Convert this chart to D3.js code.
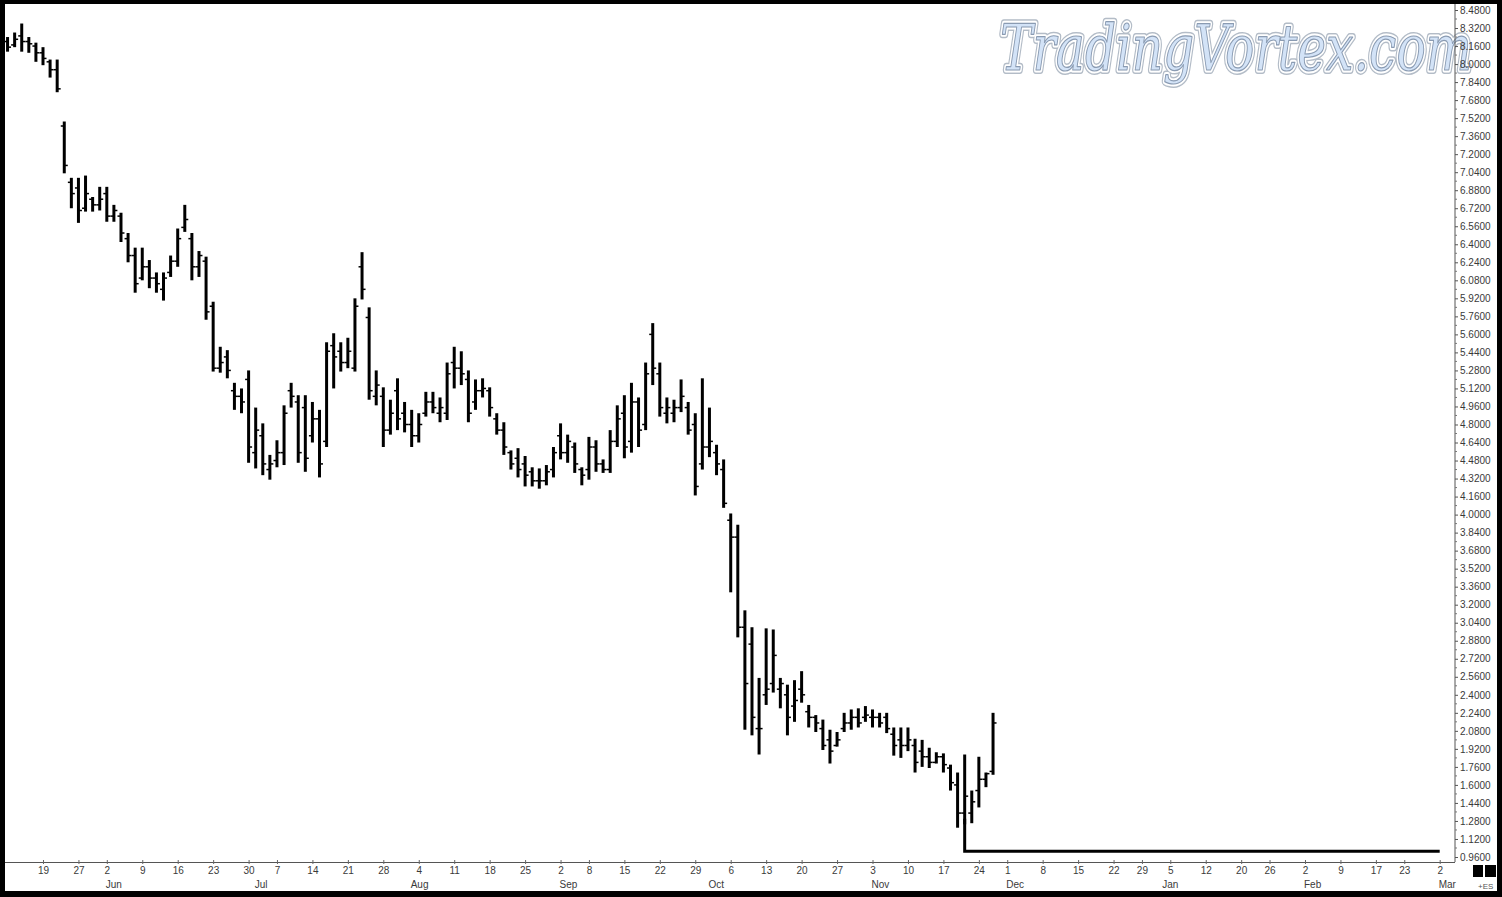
<!DOCTYPE html>
<html><head><meta charset="utf-8">
<script src="https://cdnjs.cloudflare.com/ajax/libs/d3/7.8.5/d3.min.js"></script>
<style>html,body{margin:0;padding:0;background:#fff;overflow:hidden}svg{display:block}</style>
</head><body>
<svg id="c" width="1502" height="897"></svg>
<script>
// ---- data ----
const firstDay = "2008-05-12";
const lastDay = "2009-03-06";
const holidays = ["2008-05-26","2008-07-04","2008-09-01","2008-11-27","2008-12-25","2009-01-01","2009-01-19","2009-02-16"];

const high = [8.24,8.28,8.36,8.24,8.19,
 8.15,8.04,8.04,7.49,6.99, 6.99,7.01,6.82,6.91,6.91, 6.75,6.68,6.50,6.37,6.37,
 6.26,6.15,6.15,6.30,6.54, 6.75,6.50,6.34,6.29,5.89, 5.49,5.46,5.17,5.12,5.28,
 4.95,4.81,4.53,4.66,4.97, 5.17,5.06,5.06,5.00,4.93, 5.53,5.61,5.53,5.57,5.92,
 6.33,5.84,5.28,5.13,5.02, 5.21,5.00,4.93,4.90,5.09, 5.09,5.04,5.35,5.49,5.45,
 5.28,5.20,5.21,5.13,4.90, 4.82,4.57,4.59,4.52,4.42, 4.41,4.44,4.60,4.81,4.71,
 4.64,4.42,4.69,4.66,4.49, 4.75,4.97,5.06,5.17,5.04, 5.35,5.70,5.35,5.04,5.02,
 5.20,5.00,4.90,5.21,4.95, 4.62,4.49,4.01,3.91,3.15, 3.00,2.55,2.99,2.98,2.55,
 2.49,2.53,2.61,2.31,2.22, 2.18,2.09,2.07,2.24,2.27, 2.28,2.30,2.27,2.24,2.24,
 2.11,2.11,2.11,2.01,2.00, 1.93,1.89,1.88,1.78,1.71, 1.87,1.55,1.85,1.71,2.24];
const low = [8.11,8.15,8.11,8.10,8.02,
 7.99,7.88,7.75,7.03,6.72, 6.59,6.69,6.69,6.70,6.60, 6.60,6.42,6.24,5.97,6.08,
 6.01,5.97,5.90,6.11,6.20, 6.51,6.08,6.11,5.73,5.27, 5.26,5.21,4.93,4.90,4.46,
 4.41,4.35,4.31,4.42,4.44, 4.95,4.46,4.38,4.64,4.33, 4.60,5.12,5.27,5.30,5.27,
 5.91,5.02,4.97,4.60,4.71, 4.75,4.73,4.60,4.64,4.87, 4.90,4.82,4.84,5.12,5.15,
 4.82,4.93,5.04,4.87,4.71, 4.53,4.40,4.33,4.25,4.25, 4.23,4.26,4.33,4.49,4.46,
 4.37,4.26,4.31,4.38,4.37, 4.37,4.60,4.50,4.55,4.60, 4.75,5.15,4.87,4.81,4.82,
 4.91,4.71,4.17,4.40,4.51, 4.35,4.06,3.31,2.91,2.09, 2.04,1.87,2.31,2.42,2.28,
 2.04,2.16,2.33,2.11,2.07, 1.91,1.79,1.94,2.07,2.09, 2.11,2.16,2.11,2.11,2.06,
 1.86,1.84,1.90,1.71,1.76, 1.75,1.79,1.71,1.55,1.22, 1.25,1.26,1.40,1.58,1.69];
const open = [8.20,8.17,8.25,8.20,8.16,
 8.10,8.02,7.95,7.45,6.95, 6.90,6.72,6.80,6.75,6.85, 6.65,6.65,6.45,6.30,6.10,
 6.20,6.10,6.00,6.15,6.25, 6.55,6.45,6.20,6.25,5.85, 5.30,5.40,5.10,5.05,5.20,
 4.55,4.70,4.40,4.48,4.55, 5.10,5.00,4.95,4.70,4.85, 4.65,5.50,5.45,5.35,5.30,
 6.20,5.75,5.05,5.05,4.75, 5.10,4.90,4.80,4.70,4.90, 5.00,4.90,4.90,5.35,5.30,
 5.20,5.00,5.10,5.10,4.85, 4.75,4.55,4.50,4.45,4.38, 4.30,4.30,4.40,4.70,4.55,
 4.60,4.40,4.40,4.60,4.45, 4.40,4.65,4.90,4.65,5.00, 4.80,5.60,5.25,4.90,4.90,
 4.95,4.95,4.80,4.45,4.60, 4.55,4.40,3.95,3.80,3.00, 2.85,2.10,2.40,2.50,2.45,
 2.40,2.30,2.45,2.25,2.20, 2.10,2.00,1.95,2.10,2.15, 2.20,2.20,2.20,2.20,2.20,
 2.05,2.00,1.95,1.95,1.90, 1.85,1.80,1.85,1.75,1.60, 1.35,1.35,1.55,1.65,1.72];
const close = [8.15,8.22,8.20,8.18,8.10,
 8.05,7.95,7.78,7.10,6.85, 6.70,6.85,6.75,6.80,6.65, 6.70,6.50,6.30,6.05,6.20,
 6.10,6.05,6.10,6.25,6.45, 6.62,6.20,6.30,5.80,5.30, 5.35,5.28,5.05,5.00,4.60,
 4.75,4.45,4.45,4.55,4.90, 5.05,4.55,4.50,4.85,4.45, 5.45,5.40,5.35,5.45,5.85,
 6.00,5.10,5.15,4.75,4.90, 4.85,4.80,4.70,4.80,5.00, 4.95,4.95,5.25,5.30,5.25,
 4.90,5.10,5.12,4.95,4.75, 4.60,4.45,4.40,4.35,4.30, 4.30,4.38,4.55,4.55,4.65,
 4.45,4.35,4.60,4.45,4.40, 4.65,4.85,4.60,5.00,4.75, 5.25,5.30,4.95,4.95,4.95,
 5.05,4.75,4.25,4.60,4.65, 4.45,4.10,3.80,3.00,2.50, 2.20,2.10,2.45,2.75,2.50,
 2.20,2.35,2.40,2.20,2.15, 1.95,1.90,2.00,2.15,2.20, 2.15,2.22,2.20,2.15,2.10,
 1.95,1.95,2.00,1.80,1.85, 1.80,1.85,1.78,1.62,1.35, 1.50,1.45,1.65,1.70,2.15];

const supportLevel = 1.01;
const supportStart = "2008-11-20";
const supportTopPrice = 1.30;
const supportEnd = "2009-03-02";

const dayTicks = ["2008-05-19","2008-05-27","2008-06-02","2008-06-09","2008-06-16","2008-06-23","2008-06-30",
 "2008-07-07","2008-07-14","2008-07-21","2008-07-28","2008-08-04","2008-08-11","2008-08-18","2008-08-25",
 "2008-09-02","2008-09-08","2008-09-15","2008-09-22","2008-09-29","2008-10-06","2008-10-13","2008-10-20",
 "2008-10-27","2008-11-03","2008-11-10","2008-11-17","2008-11-24","2008-12-01","2008-12-08","2008-12-15",
 "2008-12-22","2008-12-29","2009-01-05","2009-01-12","2009-01-20","2009-01-26","2009-02-02","2009-02-09",
 "2009-02-17","2009-02-23","2009-03-02"];
const monthTickDates = ["2008-06-02","2008-07-01","2008-08-01","2008-09-02","2008-10-01","2008-11-03","2008-12-01","2009-01-02","2009-02-02","2009-03-02"];
const monthTickLabels = ["Jun","Jul","Aug","Sep","Oct","Nov","Dec","Jan","Feb","Mar"];
const priceMin = 0.96, priceMax = 8.48, priceStep = 0.16;
const watermarkText = "TradingVortex.com";

// ---- trading-day calendar ----
const fmt = d3.timeFormat("%Y-%m-%d");
const parse = d3.timeParse("%Y-%m-%d");
const hol = new Set(holidays);
const tradingDays = d3.timeDay.range(parse(firstDay), d3.timeDay.offset(parse(lastDay),1))
  .filter(d => d.getDay() !== 0 && d.getDay() !== 6 && !hol.has(fmt(d)))
  .map(fmt);
const idxOf = new Map(tradingDays.map((d,i)=>[d,i]));

const bars = high.map((h,i)=>({date: tradingDays[i], h, l: low[i], o: open[i], c: close[i]}));

// ---- scales ----
const svg = d3.select("#c");
const x = d3.scaleLinear().domain([0, idxOf.get("2009-03-02")]).range([7.55, 1439.7]);
const y = d3.scaleLinear().domain([priceMin, priceMax]).range([857, 10]);
const font = "'Liberation Sans', Arial, sans-serif";

// frame
svg.append("rect").attr("width",1502).attr("height",897).attr("fill","#000");
svg.append("rect").attr("x",5).attr("y",4).attr("width",1492).attr("height",887).attr("fill","#fff");

svg.append("clipPath").attr("id","plotclip").append("rect").attr("x",5).attr("y",4).attr("width",1450).attr("height",858);

// watermark
const wm = svg.append("g").attr("font-family","'DejaVu Serif', serif").attr("font-style","italic")
  .attr("font-weight","normal").attr("font-size",64);
[["#b3bcc7",8,"none"],["#ffffff",5,"none"],["#8a9bb2",1.2,"#d3e3f7"]].forEach(([s,w,f])=>{
  wm.append("text").attr("x",1000).attr("y",70).attr("textLength",472).attr("lengthAdjust","spacingAndGlyphs")
    .attr("stroke",s).attr("stroke-width",w).attr("stroke-linejoin","round").attr("fill",f).text(watermarkText);
});

// price axis
const yAxisX = 1455;
svg.append("line").attr("x1",yAxisX).attr("x2",yAxisX).attr("y1",4).attr("y2",862).attr("stroke","#555").attr("stroke-width",1);
const priceTicks = d3.range(0, Math.round((priceMax-priceMin)/priceStep)+1).map(k => priceMin + k*priceStep);
const yAxis = d3.axisRight(y).tickValues(priceTicks).tickSize(3).tickPadding(2).tickFormat(d3.format(".4f"));
const yg = svg.append("g").attr("transform",`translate(${yAxisX},0)`).call(yAxis);
yg.select(".domain").remove();
yg.selectAll("line").attr("stroke","#555");
yg.selectAll("text").attr("font-family",font).attr("font-size",10).attr("fill","#3a3a3a");
const minor = priceTicks.slice(0,-1).map(v=>v+priceStep/2);
svg.append("g").selectAll("line").data(minor).join("line")
  .attr("x1",yAxisX).attr("x2",yAxisX+2).attr("y1",d=>y(d)).attr("y2",d=>y(d)).attr("stroke","#777");

// date axis
svg.append("line").attr("x1",5).attr("x2",yAxisX).attr("y1",862.5).attr("y2",862.5).attr("stroke","#555");
const xAxis = d3.axisBottom(x).tickValues(dayTicks.map(d=>idxOf.get(d))).tickSize(4).tickPadding(3)
  .tickFormat(i => String(+tradingDays[i].slice(8)));
const xg = svg.append("g").attr("transform","translate(0,860)").call(xAxis);
xg.select(".domain").remove();
xg.selectAll("line").attr("stroke","#666");
xg.selectAll("text").attr("font-family",font).attr("font-size",10).attr("fill","#3a3a3a");
svg.append("g").selectAll("text").data(monthTickDates).join("text")
  .attr("x",d=>x(idxOf.get(d))-1).attr("y",888)
  .attr("font-family",font).attr("font-size",10).attr("fill","#3a3a3a")
  .text((d,i)=>monthTickLabels[i]);

// bars
const plot = svg.append("g").attr("clip-path","url(#plotclip)");
const bg = plot.selectAll("g.bar").data(bars).join("g").attr("class","bar");
bg.append("line").attr("x1",d=>x(idxOf.get(d.date))).attr("x2",d=>x(idxOf.get(d.date)))
  .attr("y1",d=>y(d.h)).attr("y2",d=>y(d.l)).attr("stroke","#000").attr("stroke-width",3);
bg.append("line").attr("x1",d=>x(idxOf.get(d.date))-3.5).attr("x2",d=>x(idxOf.get(d.date)))
  .attr("y1",d=>y(d.o)).attr("y2",d=>y(d.o)).attr("stroke","#000").attr("stroke-width",1.5);
bg.append("line").attr("x1",d=>x(idxOf.get(d.date))).attr("x2",d=>x(idxOf.get(d.date))+3.5)
  .attr("y1",d=>y(d.c)).attr("y2",d=>y(d.c)).attr("stroke","#000").attr("stroke-width",1.5);

// support line
const sp = [[idxOf.get(supportStart), supportTopPrice],[idxOf.get(supportStart), supportLevel],[idxOf.get(supportEnd), supportLevel]];
plot.append("path").attr("d", d3.line().x(d=>x(d[0])).y(d=>y(d[1]))(sp))
  .attr("fill","none").attr("stroke","#000").attr("stroke-width",3);

// bottom-right boxes
svg.append("rect").attr("x",1473).attr("y",865).attr("width",10).attr("height",12).attr("fill","#000");
svg.append("rect").attr("x",1485).attr("y",865).attr("width",11).attr("height",12).attr("fill","#000");
svg.append("text").attr("x",1478).attr("y",889).attr("font-family",font)
  .attr("font-size",8).attr("fill","#555").text("+ES");
</script>
</body></html>
